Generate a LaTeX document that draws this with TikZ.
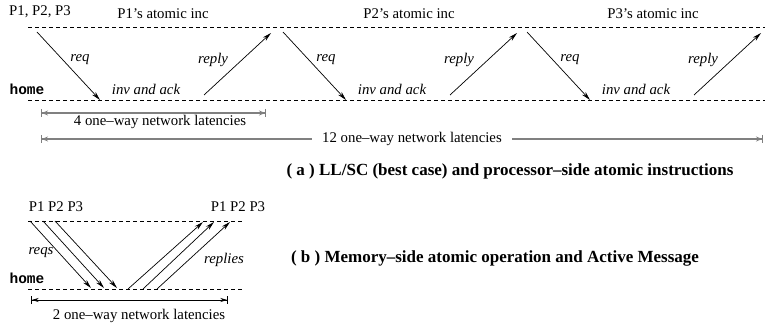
\documentclass[tikz,border=0pt]{standalone}
\usepackage{fontspec}
\setmainfont{Liberation Serif}
\setmonofont{Liberation Mono}
\usetikzlibrary{arrows.meta}
\begin{document}
\begin{tikzpicture}[x=1pt, y=-1pt, font=\fontsize{14.8}{17}\selectfont,
  timeline/.style={dash pattern=on 4pt off 3pt, line width=0.8pt},
  msg/.style={line width=0.7pt, -{Stealth[length=9pt, width=4.5pt]}},
  latency/.style={gray, line width=2pt,
    {Bar[width=8pt, line width=1pt]Stealth[length=6pt, width=5pt]}-{Stealth[length=6pt, width=5pt]Bar[width=8pt, line width=1pt]}},
  latencyb/.style={line width=0.7pt,
    {Bar[width=8pt, sep=4pt]Stealth[length=7pt, width=4pt]}-{Stealth[length=7pt, width=4pt]Bar[width=8pt]}},
  lbl/.style={font=\fontsize{14.8}{17}\selectfont\itshape},
  caption/.style={font=\fontsize{17}{20}\selectfont\bfseries}]
\useasboundingbox (0,0) rectangle (767,328);

% (a) processor side
\coordinate (topL) at (28,27);   \coordinate (topR) at (765,27);
\coordinate (homeL) at (28,100); \coordinate (homeR) at (765,100);
\draw[timeline] (topL) -- (topR);
\draw[timeline] (homeL) -- (homeR);
\node (procs) at (40,12) {P1, P2, P3};
\node[font=\fontsize{14.5}{16}\selectfont\ttfamily\bfseries] (home) at (27,89) {home};

\foreach \i/\dx in {1/0,2/246,3/490}
{
  \coordinate (rq\i s) at (37+\dx,32);
  \coordinate (rq\i e) at (100+\dx,100);
  \coordinate (rp\i s) at (204+\dx,95);
  \coordinate (rp\i e) at (271+\dx,33);
  \draw[msg] (rq\i s) -- (rq\i e);
  \draw[msg] (rp\i s) -- (rp\i e);
  \node[lbl] (req\i) at (80+\dx,60) {req};
  \node[lbl] (reply\i) at (213+\dx,60) {reply};
  \node[lbl] (inv\i) at (146+\dx,89) {inv and ack};
  \node (inc\i) at (163+\dx,14) {P\i's atomic inc};
}

\coordinate (l4s) at (41,113);  \coordinate (l4e) at (266,113);
\draw[latency] (l4s) -- (l4e);
\node (l4) at (160,122) {4 one--way network latencies};
\coordinate (l12s) at (41,139); \coordinate (l12e) at (763,139);
\draw[latency] (l12s) -- node[fill=white, text=black, inner xsep=10pt, xshift=10pt] (l12) {12 one--way network latencies} (l12e);
\node[caption] (capa) at (510,171) {( a ) LL/SC (best case) and processor--side atomic instructions};

% (b) memory side
\coordinate (btopL) at (28,221);  \coordinate (btopR) at (243,221);
\coordinate (bhomeL) at (28,289); \coordinate (bhomeR) at (243,289);
\draw[timeline] (btopL) -- (btopR);
\draw[timeline] (bhomeL) -- (bhomeR);
\node (bprocsL) at (56,207) {P1 P2 P3};
\node (bprocsR) at (238,207) {P1 P2 P3};
\node[font=\fontsize{14.5}{16}\selectfont\ttfamily\bfseries] (bhome) at (27,278) {home};

\foreach \i/\sx/\ex in {1/30/91,2/43/104,3/55/117}
{
  \coordinate (brq\i s) at (\sx,221);
  \coordinate (brq\i e) at (\ex,288);
  \draw[msg] (brq\i s) -- (brq\i e);
}
\foreach \i/\sx/\ex in {1/128/203,2/143/214,3/157/230}
{
  \coordinate (brp\i s) at (\sx,289);
  \coordinate (brp\i e) at (\ex,222);
  \draw[msg] (brp\i s) -- (brp\i e);
}
\node[lbl] (reqs) at (41,253) {reqs};
\node[lbl] (replies) at (224,260) {replies};

\coordinate (l2s) at (27,300); \coordinate (l2e) at (228,300);
\draw[latencyb] (l2s) -- (l2e);
\node (l2) at (139,316) {2 one--way network latencies};
\node[caption] (capb) at (495,258) {( b ) Memory--side atomic operation and Active Message};
\end{tikzpicture}
\end{document}
